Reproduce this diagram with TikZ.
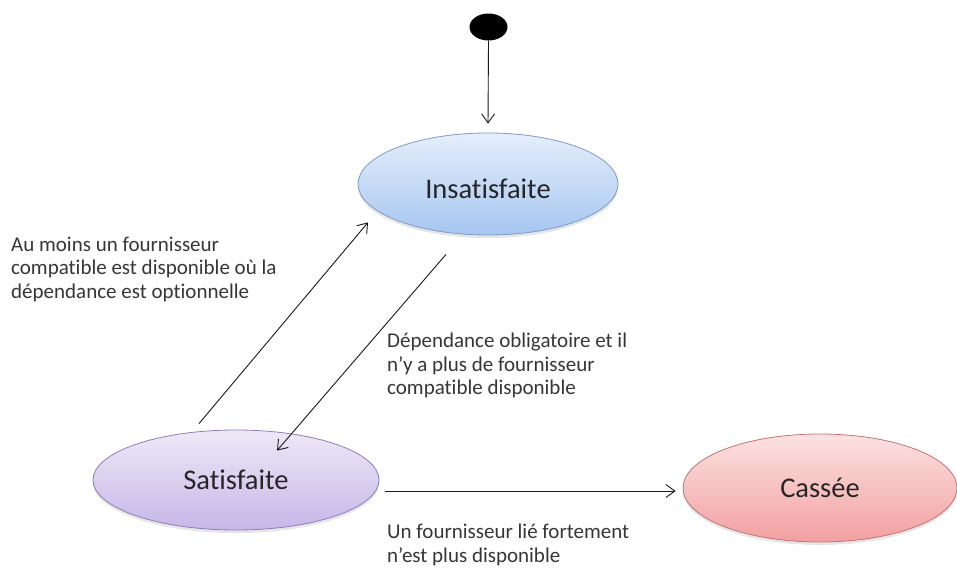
\documentclass[tikz,border=0pt]{standalone}
\usepackage{fontspec}
\setmainfont[Ligatures={NoCommon}]{Carlito}
\usetikzlibrary{shapes.geometric,arrows.meta,shadows}
\definecolor{txt}{HTML}{363636}
\tikzset{
  state/.style={ellipse, draw, line width=0.8pt, inner sep=0pt, text=black!85,
    font=\fontsize{28.5}{32}\selectfont,
    drop shadow={shadow xshift=0pt, shadow yshift=-3pt, opacity=0.2}},
  arr/.style={draw=black!90, line width=0.9pt, -{Straight Barb[length=9pt,width=13pt]}},
  lbl/.style={anchor=north west, align=left, inner sep=0pt, text=txt,
    font=\fontsize{21}{23.3}\selectfont}
}
\begin{document}
\begin{tikzpicture}[x=1pt,y=-1pt]
\useasboundingbox (0,0) rectangle (957,570);
\node[ellipse, fill=black, minimum width=38pt, minimum height=27pt, inner sep=0pt] (init) at (488.5,27) {};
\node[state, minimum width=260pt, minimum height=102pt, draw={rgb,255:red,125;green,155;blue,205},
  top color={rgb,255:red,230;green,238;blue,251}, bottom color={rgb,255:red,165;green,198;blue,240}] (ins) at (488,184) {\raisebox{-5pt}[\height][\depth]{Insatisfaite}};
\node[state, minimum width=286pt, minimum height=100pt, draw={rgb,255:red,145;green,125;blue,185},
  top color={rgb,255:red,238;green,233;blue,247}, bottom color={rgb,255:red,198;green,182;blue,232}] (sat) at (236,480) {Satisfaite};
\node[state, minimum width=274pt, minimum height=108pt, draw={rgb,255:red,195;green,115;blue,115},
  top color={rgb,255:red,252;green,226;blue,226}, bottom color={rgb,255:red,242;green,160;blue,160}] (cas) at (820,488) {Cassée};

\draw[arr] (init.south) -- ([yshift=9pt]ins.north);
\draw[arr] ([xshift=-37pt,yshift=6pt]sat.north) -- ([xshift=-120pt,yshift=13pt]ins.south);
\draw[arr] ([xshift=-42pt,yshift=-19pt]ins.south) -- ([xshift=41pt,yshift=-21pt]sat.north);
\draw[arr] ([xshift=6pt,yshift=-11pt]sat.east) -- ([xshift=-7pt,yshift=-3pt]cas.west);

\node[lbl] (l1) at (11,237) {Au moins un fournisseur\\compatible est disponible où la\\dépendance est optionnelle};
\node[lbl] (l2) at (387,333) {Dépendance obligatoire et il\\n’y a plus de fournisseur\\compatible disponible};
\node[lbl] (l3) at (387,524) {Un fournisseur lié fortement\\n’est plus disponible};
\end{tikzpicture}
\end{document}
